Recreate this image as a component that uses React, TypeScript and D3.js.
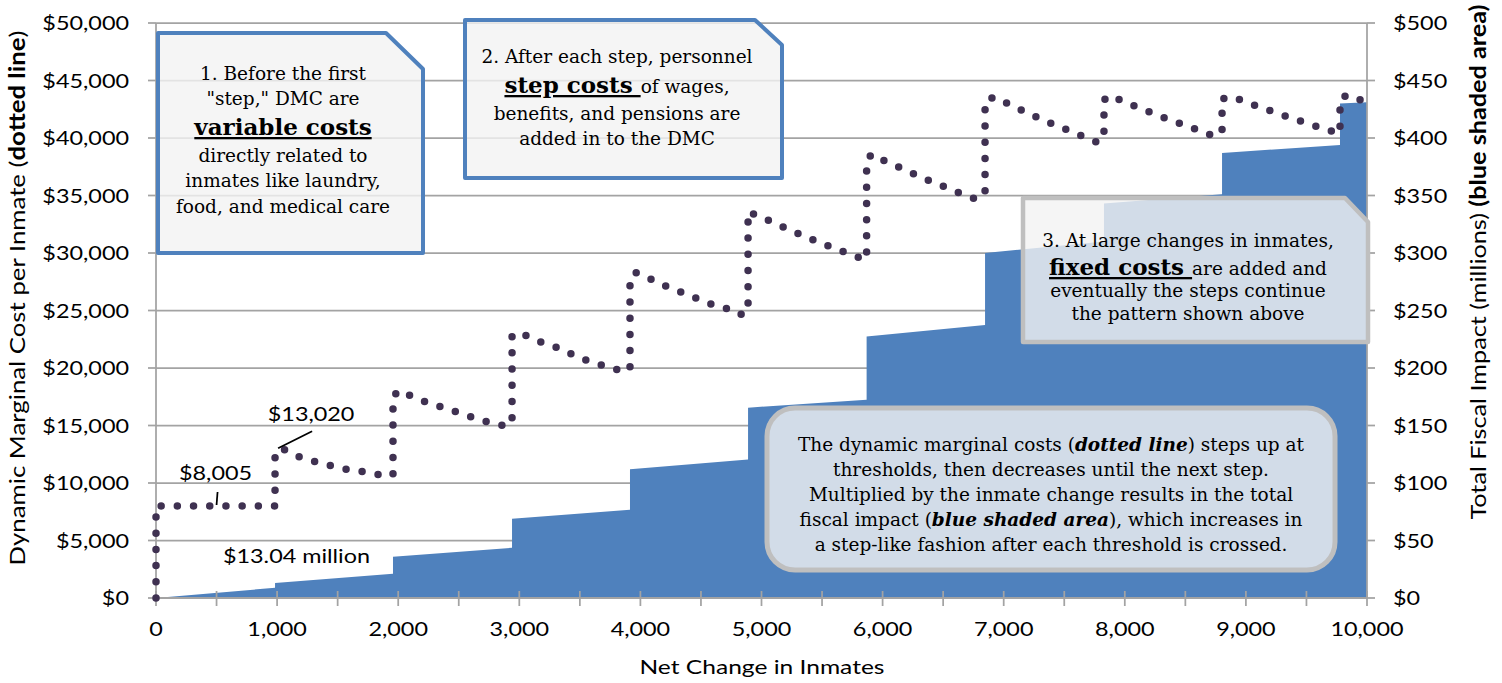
import React from 'react';
import * as d3 from 'd3';

const W = 1502;
const H = 683;

// Dynamic marginal cost per inmate (dotted line)
const dmcInmates = [
  0, 0, 983,
  983, 1038, 1156, 1288, 1412, 1544, 1668, 1800, 1932,
  1957, 1957, 2007, 2122, 2246, 2378, 2502, 2626, 2758, 2882,
  2940, 2940, 3006, 3121, 3254, 3377, 3493, 3625, 3749, 3881,
  3914, 3914, 3961, 4079, 4203, 4327, 4451, 4575, 4699, 4822,
  4889, 4889, 5005, 5125, 5248, 5372, 5490, 5620, 5744, 5861,
  5868, 5868, 5910, 6028, 6152, 6273, 6394, 6518, 6639, 6765,
  6846, 6846, 6920, 7041, 7162, 7283, 7404, 7528, 7649, 7770,
  7828, 7828, 7877, 7996, 8120, 8244, 8368, 8495, 8619, 8743,
  8803, 8803, 8891, 9017, 9138, 9268, 9392, 9519, 9648,
  9777, 9777, 9832, 9961, 10000,
];
const dmcValues = [
  0, 8005, 8005,
  12600, 13020, 12365, 11930, 11583, 11235, 11061, 10800, 10600,
  10750, 17500, 18043, 17496, 16974, 16539, 16104, 15670, 15235, 14974,
  15200, 22800, 23087, 22452, 22017, 21496, 20887, 20452, 20017, 19670,
  20000, 27800, 28304, 27757, 27148, 26626, 26104, 25583, 25235, 24626,
  24900, 33600, 33087, 32513, 31930, 31383, 30861, 30339, 29843, 29383,
  29600, 38000, 38600, 37957, 37383, 36800, 36252, 35730, 35209, 34713,
  35100, 43200, 43557, 42948, 42339, 41757, 41209, 40687, 40165, 39643,
  40000, 43300, 43696, 43148, 42600, 42104, 41583, 41122, 40626, 40130,
  40600, 43400, 43583, 43061, 42600, 42130, 41670, 41235, 40774,
  40400, 43300, 43730, 43261, 43150,
];

// Total fiscal impact, millions (blue shaded area)
const fiscalInmates = [0, 983, 983, 1957, 1957, 2940, 2940, 3914, 3914, 4889, 4889, 5868, 5868, 6846, 6846, 7828, 7828, 8803, 8803, 9777, 9777, 10000];
const fiscalMillions = [0, 8.9, 13.04, 21.0, 35.8, 43.7, 68.9, 76.7, 112, 120.5, 165.5, 172.5, 227.5, 237.5, 300, 310, 343, 351, 387, 394, 430, 431];

const leftTicks = [0, 5000, 10000, 15000, 20000, 25000, 30000, 35000, 40000, 45000, 50000];
const rightTicks = [0, 50, 100, 150, 200, 250, 300, 350, 400, 450, 500];
const xTicks = [0, 1000, 2000, 3000, 4000, 5000, 6000, 7000, 8000, 9000, 10000];
const xMinorTicks = [0, 500, 1000, 1500, 2000, 2500, 3000, 3500, 4000, 4500, 5000, 5500, 6000, 6500, 7000, 7500, 8000, 8500, 9000, 9500, 10000];

const SANS = 'Lato, "Open Sans", sans-serif';
const SERIF = '"DejaVu Serif", serif';
const SX = 1.2;
const GRID = '#a3a3a3';
const BLUE = '#4f81bd';
const DOT = '#3f3151';
const BODY = 18.5;
const BIG = 23;

function SText(props: any) {
  const { x, y, anchor = 'start', size = 19.5, children, baseline } = props;
  return (
    <text
      transform={`translate(${x},${y}) scale(${SX},1)`}
      textAnchor={anchor}
      dominantBaseline={baseline}
      fontFamily={SANS}
      fontSize={size}
      fill="#000"
    >
      {children}
    </text>
  );
}

export default function App() {
  const x = d3.scaleLinear().domain([0, 10000]).range([156, 1367]);
  const yL = d3.scaleLinear().domain([0, 50000]).range([598, 23]);
  const yR = d3.scaleLinear().domain([0, 500]).range([598, 23]);

  const dmc = dmcInmates.map((n, i) => [n, dmcValues[i]] as [number, number]);
  const fiscal = fiscalInmates.map((n, i) => [n, fiscalMillions[i]] as [number, number]);

  const area = d3
    .area<[number, number]>()
    .x((d) => x(d[0]))
    .y0(yR(0))
    .y1((d) => yR(d[1]));
  const line = d3
    .line<[number, number]>()
    .x((d) => x(d[0]))
    .y((d) => yL(d[1]));

  const fmtL = (v: number) => '$' + d3.format(',')(v);
  const fmtX = d3.format(',');

  const boxFill = '#f2f2f2';
  const boxOpacity = 0.8;

  return (
    <svg
      width={W}
      height={H}
      style={{ position: 'absolute', left: 0, top: 0, background: '#fff' }}
    >
      <rect x={0} y={0} width={W} height={H} fill="#fff" />
      {/* gridlines */}
      {leftTicks.map((t) => (
        <line key={'g' + t} x1={x(0)} x2={x(10000)} y1={yL(t)} y2={yL(t)} stroke={GRID} strokeWidth={1.75} />
      ))}
      {/* blue shaded area */}
      <path d={area(fiscal) || ''} fill={BLUE} />
      {/* axes lines */}
      <line x1={x(0)} x2={x(0)} y1={yL(50000)} y2={yL(0)} stroke={GRID} strokeWidth={1.75} />
      <line x1={x(10000)} x2={x(10000)} y1={yL(50000)} y2={yL(0)} stroke={GRID} strokeWidth={1.75} />
      <line x1={x(0)} x2={x(10000)} y1={yL(0)} y2={yL(0)} stroke={GRID} strokeWidth={2} />
      {leftTicks.map((t) => (
        <line key={'lt' + t} x1={x(0) - 8} x2={x(0)} y1={yL(t)} y2={yL(t)} stroke={GRID} strokeWidth={1.75} />
      ))}
      {rightTicks.map((t) => (
        <line key={'rt' + t} x1={x(10000)} x2={x(10000) + 8} y1={yR(t)} y2={yR(t)} stroke={GRID} strokeWidth={1.75} />
      ))}
      {xMinorTicks.map((t) => (
        <line key={'xt' + t} x1={x(t)} x2={x(t)} y1={yL(0) - 7} y2={yL(0) + 8} stroke={GRID} strokeWidth={1.75} />
      ))}

      {/* dotted line */}
      <path
        d={line(dmc) || ''}
        fill="none"
        stroke={DOT}
        strokeWidth={7.5}
        strokeLinecap="round"
        strokeLinejoin="round"
        strokeDasharray="0 16.2"
      />

      {/* tick labels */}
      {leftTicks.map((t) => (
        <SText key={'ll' + t} x={129} y={yL(t)} anchor="end" baseline="central">
          {fmtL(t)}
        </SText>
      ))}
      {rightTicks.map((t) => (
        <SText key={'rl' + t} x={1393} y={yR(t)} anchor="start" baseline="central">
          {'$' + t}
        </SText>
      ))}
      {xTicks.map((t) => (
        <SText key={'xl' + t} x={x(t)} y={629} anchor="middle" baseline="central">
          {fmtX(t)}
        </SText>
      ))}

      {/* axis titles */}
      <text
        x={762}
        y={674}
        textAnchor="middle"
        fontFamily={SANS}
        fontSize={20}
        textLength={245}
        lengthAdjust="spacingAndGlyphs"
      >
        Net Change in Inmates
      </text>
      <text
        transform="translate(25,298) rotate(-90)"
        textAnchor="middle"
        fontFamily={SANS}
        fontSize={22}
        textLength={535}
        lengthAdjust="spacingAndGlyphs"
      >
        Dynamic Marginal Cost per Inmate (<tspan fontWeight="bold">dotted line</tspan>)
      </text>
      <text
        transform="translate(1486,262) rotate(-90)"
        textAnchor="middle"
        fontFamily={SANS}
        fontSize={22}
        textLength={515}
        lengthAdjust="spacingAndGlyphs"
      >
        Total Fiscal Impact (millions) <tspan fontWeight="bold">(blue shaded area)</tspan>
      </text>

      {/* data labels */}
      <SText x={x(1000) + 34} y={yL(13020) - 27} anchor="middle" size={19.5}>
        $13,020
      </SText>
      <line x1={x(1000) + 35} y1={yL(13020) - 17} x2={x(1000) + 1} y2={yL(13020)} stroke="#000" strokeWidth={1.75} />
      <SText x={x(500) - 1} y={yL(8005) - 26} anchor="middle" size={19.5}>
        $8,005
      </SText>
      <line x1={x(500) + 1} y1={yL(8005) - 14} x2={x(500)} y2={yL(8005) - 1} stroke="#000" strokeWidth={1.75} />
      <SText x={x(1160)} y={yL(0) - 35} anchor="middle" size={19.5}>
        $13.04 million
      </SText>

      {/* Box 1 */}
      <path
        d="M158,33 L386,33 L423,69 L423,253 L158,253 Z"
        fill={boxFill}
        fillOpacity={boxOpacity}
        stroke={BLUE}
        strokeWidth={4}
        strokeLinejoin="round"
      />
      <text fontFamily={SERIF} fontSize={BODY} textAnchor="middle" fill="#000">
        <tspan x={283} y={80}>1. Before the first</tspan>
        <tspan x={283} y={105}>"step," DMC are</tspan>
        <tspan x={283} y={135} fontWeight="bold" fontSize={BIG} textDecoration="underline">variable costs</tspan>
        <tspan x={283} y={162}>directly related to</tspan>
        <tspan x={283} y={187}>inmates like laundry,</tspan>
        <tspan x={283} y={213}>food, and medical care</tspan>
      </text>

      {/* Box 2 */}
      <path
        d="M465,20 L755,20 L782,45 L782,178 L465,178 Z"
        fill={boxFill}
        fillOpacity={boxOpacity}
        stroke={BLUE}
        strokeWidth={4}
        strokeLinejoin="round"
      />
      <text fontFamily={SERIF} fontSize={BODY} textAnchor="middle" fill="#000" style={{ whiteSpace: 'pre' }}>
        <tspan x={617} y={63}>2. After each step, personnel</tspan>
        <tspan x={617} y={93}>
          <tspan fontWeight="bold" fontSize={BIG} textDecoration="underline">{'step costs '}</tspan>
          <tspan>of wages,</tspan>
        </tspan>
        <tspan x={617} y={120}>benefits, and pensions are</tspan>
        <tspan x={617} y={145}>added in to the DMC</tspan>
      </text>

      {/* Box 3 */}
      <path
        d="M1023,198 L1345,198 L1368,222 L1368,342 L1023,342 Z"
        fill={boxFill}
        fillOpacity={boxOpacity}
        stroke="#bfbfbf"
        strokeWidth={4.5}
        strokeLinejoin="round"
      />
      <text fontFamily={SERIF} fontSize={BODY} textAnchor="middle" fill="#000" style={{ whiteSpace: 'pre' }}>
        <tspan x={1188} y={247}>3. At large changes in inmates,</tspan>
        <tspan x={1188} y={275}>
          <tspan fontWeight="bold" fontSize={BIG} textDecoration="underline">{'fixed costs '}</tspan>
          <tspan>are added and</tspan>
        </tspan>
        <tspan x={1188} y={297}>eventually the steps continue</tspan>
        <tspan x={1188} y={320}>the pattern shown above</tspan>
      </text>

      {/* Box 4 */}
      <rect
        x={767}
        y={408}
        width={568}
        height={162}
        rx={28}
        ry={28}
        fill={boxFill}
        fillOpacity={boxOpacity}
        stroke="#bfbfbf"
        strokeWidth={5}
      />
      <text fontFamily={SERIF} fontSize={BODY} textAnchor="middle" fill="#000">
        <tspan x={1051} y={451}>
          The dynamic marginal costs (<tspan fontWeight="bold" fontStyle="italic">dotted line</tspan>) steps up at
        </tspan>
        <tspan x={1051} y={476}>thresholds, then decreases until the next step.</tspan>
        <tspan x={1051} y={501}>Multiplied by the inmate change results in the total</tspan>
        <tspan x={1051} y={526}>
          fiscal impact (<tspan fontWeight="bold" fontStyle="italic">blue shaded area</tspan>), which increases in
        </tspan>
        <tspan x={1051} y={551}>a step-like fashion after each threshold is crossed.</tspan>
      </text>
    </svg>
  );
}
